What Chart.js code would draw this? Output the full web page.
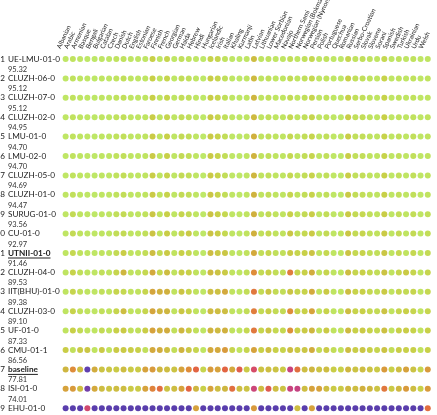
<!DOCTYPE html>
<html>
<head>
<meta charset="utf-8">
<script src="https://cdn.jsdelivr.net/npm/chart.js@4.4.0/dist/chart.umd.min.js"></script>
<style>
  html, body { margin: 0; padding: 0; background: #fff; }
  #wrap { width: 437px; height: 415px; }
</style>
</head>
<body>
<div id="wrap"><canvas id="dots"></canvas></div>
<script>
// languages (columns)
var languages = ['Albanian', 'Arabic', 'Armenian', 'Basque', 'Bengali', 'Bulgarian', 'Catalan', 'Czech', 'Danish', 'Dutch',
    'English', 'Estonian', 'Faroese', 'Finnish', 'French', 'Georgian', 'German', 'Haida', 'Hebrew', 'Hindi',
    'Hungarian', 'Icelandic', 'Irish', 'Italian', 'Khaling', 'Kurmanji', 'Latin', 'Latvian', 'Lithuanian', 'Lower Sorbian',
    'Macedonian', 'Navajo', 'Northern Sami', 'Norwegian (Bokmal)', 'Norwegian (Nynorsk)', 'Persian', 'Polish', 'Portuguese', 'Quechua', 'Romanian',
    'Russian', 'Serbo-Croatian', 'Slovak', 'Slovene', 'Sorani', 'Spanish', 'Swedish', 'Turkish', 'Ukrainian', 'Urdu', 'Welsh'];

// systems (rows), ranked
var systems = ['UE-LMU-01-0', 'CLUZH-06-0', 'CLUZH-07-0', 'CLUZH-02-0', 'LMU-01-0', 'LMU-02-0', 'CLUZH-05-0', 'CLUZH-01-0',
    'SURUG-01-0', 'CU-01-0', 'UTNII-01-0', 'CLUZH-04-0', 'IIT(BHU)-01-0', 'CLUZH-03-0', 'UF-01-0', 'CMU-01-1',
    'baseline', 'ISI-01-0', 'EHU-01-0'];
var averages = ['95.32', '95.12', '95.12', '94.95', '94.70', '94.70', '94.69', '94.47', '93.56', '92.97', '91.46',
    '89.53', '89.38', '89.10', '87.33', '86.56', '77.81', '74.01', '7.57'];
var highlighted = ['UTNII-01-0', 'baseline'];

// accuracy per system, one value per language
var ueLmu01 = [98,94,97,99,99,97,98,94,93,97,97,97,86,96,88,98,92,93,98,100,87,88,93,98,99,97,80,95,93,96,96,91,96,92,89,97,93,98,99,88,93,92,94,96,89,98,93,97,93,98,95];
var cluzh06 = [98,93,96,98,99,96,98,94,92,96,97,96,86,95,88,98,91,92,97,100,85,88,92,98,99,97,79,95,92,96,96,90,95,92,89,97,93,98,99,86,92,92,94,96,87,98,93,97,93,98,94];
var cluzh07 = [98,93,96,98,99,96,98,94,92,96,97,96,86,95,88,97,91,92,97,100,85,88,92,98,99,97,78,95,92,96,96,90,95,92,88,97,93,98,99,86,92,92,94,96,87,98,93,97,93,98,95];
var cluzh02 = [98,93,96,98,99,96,98,93,92,96,96,96,85,95,88,97,91,92,97,100,84,88,92,98,99,97,79,95,92,96,95,89,95,92,88,97,93,98,99,85,92,91,94,96,86,98,93,97,93,98,94];
var lmu01 = [98,93,96,98,99,96,97,93,92,96,96,95,84,95,86,97,90,91,97,100,84,87,91,98,99,96,76,94,92,95,95,89,95,91,88,97,92,98,99,85,92,91,94,95,87,97,92,97,92,98,94];
var lmu02 = [98,93,96,98,99,96,97,93,92,96,96,95,84,95,86,97,90,91,97,100,84,87,91,98,99,96,77,94,92,95,95,89,95,91,88,97,92,98,99,85,92,91,94,95,87,97,92,97,92,98,94];
var cluzh05 = [98,93,96,98,99,96,98,93,91,96,96,95,85,95,87,97,90,91,97,100,84,87,91,98,99,97,78,94,92,95,95,89,94,91,87,97,92,98,99,85,92,91,94,95,86,98,92,97,92,98,94];
var cluzh01 = [97,92,96,98,99,96,97,93,91,96,96,95,84,94,87,97,90,91,97,100,83,87,91,97,99,96,77,94,91,95,95,88,94,91,87,96,92,98,99,84,91,91,93,95,86,97,92,97,92,98,94];
var surug01 = [97,90,95,97,99,95,97,92,90,95,95,93,83,93,86,96,88,90,96,99,82,86,89,97,98,95,76,93,90,94,94,86,93,90,85,96,91,97,98,84,90,89,92,94,85,97,91,96,91,97,92];
var cu01 = [97,90,94,97,98,95,96,91,90,95,95,92,82,93,85,95,88,84,96,99,82,85,89,96,98,94,76,92,89,93,93,83,92,89,84,95,90,97,94,83,90,88,92,93,84,96,90,95,90,97,91];
var utnii01 = [96,89,93,96,98,94,95,90,85,94,94,91,80,90,84,94,86,88,95,99,80,84,83,95,97,93,74,91,88,92,92,84,88,86,82,94,89,96,96,82,89,87,91,92,83,95,89,94,89,96,90];
var cluzh04 = [95,87,92,95,97,92,94,88,78,93,93,89,74,89,80,93,85,86,93,98,79,82,84,94,96,92,66,90,86,91,91,63,88,86,75,93,88,95,96,80,88,86,89,91,82,94,88,84,88,95,88];
var iitBhu01 = [95,88,92,95,97,92,94,88,89,93,93,88,73,76,76,93,82,87,93,98,80,81,74,94,96,91,62,90,82,90,91,82,88,87,74,93,84,95,96,80,87,86,89,91,84,94,88,90,88,95,89];
var cluzh03 = [95,87,92,94,97,92,94,88,80,93,93,88,73,78,78,93,83,86,93,98,79,80,80,94,96,91,63,90,85,90,90,66,87,86,72,93,87,95,95,80,87,86,89,90,82,94,88,86,88,95,88];
var uf01 = [94,86,90,94,96,90,93,86,84,92,92,85,72,76,75,92,78,84,92,97,77,79,76,93,95,89,62,88,82,89,89,67,86,84,78,92,84,94,94,79,86,84,87,89,81,93,86,85,87,94,86];
var cmu01 = [85,92,84,83,94,84,93,84,84,85,86,92,74,75,80,91,77,83,88,96,74,74,70,88,94,88,72,86,80,86,87,80,84,83,75,90,84,91,93,80,85,83,86,88,82,91,85,86,86,93,86];
var baseline = [78,66,80,25,75,82,83,84,80,84,84,72,70,78,80,82,72,66,58,88,70,72,58,74,56,84,50,82,80,82,84,45,60,80,78,82,80,85,86,78,82,80,82,84,70,86,80,72,82,88,70];
var isi01 = [72,70,80,28,74,80,82,80,80,84,84,72,64,60,82,80,72,58,78,86,72,80,78,60,80,82,46,80,55,80,82,45,44,80,72,72,80,84,84,78,80,76,78,82,62,84,78,70,80,86,70];
var ehu01 = [5,4,6,48,5,4,6,3,5,4,5,3,4,3,5,6,4,3,72,5,4,3,4,5,6,4,70,5,3,4,5,3,80,4,72,5,4,6,5,4,5,3,4,5,3,5,4,5,3,4,60];

var scores = [ueLmu01, cluzh06, cluzh07, cluzh02, lmu01, lmu02, cluzh05, cluzh01, surug01, cu01,
    utnii01, cluzh04, iitBhu01, cluzh03, uf01, cmu01, baseline, isi01, ehu01];

// colour ramp: purple (low) -> magenta -> red -> orange -> olive -> light green (high)
var ramp = [
    [0, [88, 62, 172]],
    [25, [96, 64, 176]],
    [40, [186, 60, 146]],
    [50, [214, 76, 104]],
    [58, [226, 100, 66]],
    [66, [222, 140, 58]],
    [76, [208, 176, 62]],
    [86, [200, 208, 72]],
    [93, [192, 226, 94]],
    [100, [190, 232, 104]]
];

function colourFor(v) {
    for (let i = 1; i < ramp.length; i++) {
        if (v <= ramp[i][0]) {
            let a = ramp[i - 1], b = ramp[i];
            let t = (v - a[0]) / (b[0] - a[0]);
            let c = a[1].map((x, k) => Math.round(x + (b[1][k] - x) * t));
            return 'rgb(' + c.join(',') + ')';
        }
    }
    return 'rgb(190,232,104)';
}

var points = [];
systems.forEach((s, r) => {
    languages.forEach((l, c) => {
        points.push({ x: l, y: s, v: scores[r][c] });
    });
});

// row labels: rank, system name, average underneath
var rowLabels = {
    id: 'rowLabels',
    afterDraw(chart) {
        const ctx = chart.ctx;
        const yScale = chart.scales.y;
        ctx.save();
        systems.forEach((s, i) => {
            const y = yScale.getPixelForValue(i);
            const strong = highlighted.includes(s);
            ctx.fillStyle = '#222';
            ctx.textBaseline = 'middle';
            ctx.font = '8.2px Lato';
            ctx.textAlign = 'right';
            ctx.fillText(String(i + 1), 5, y);
            ctx.textAlign = 'left';
            ctx.font = (strong ? 'bold ' : '') + '8.2px Lato';
            ctx.fillText(s, 8, y);
            if (strong) {
                const w = ctx.measureText(s).width;
                ctx.fillRect(8, y + 4.5, w, 1);
            }
            ctx.fillStyle = '#333';
            ctx.font = '7.5px Lato';
            ctx.fillText(averages[i], 8, y + 10.5);
        });
        ctx.restore();
    }
};

new Chart(document.getElementById('dots'), {
    type: 'scatter',
    data: {
        datasets: [{
            data: points,
            clip: false,
            pointRadius: 3,
            pointHoverRadius: 3,
            pointBorderWidth: 0,
            pointBackgroundColor: (ctx) => colourFor(ctx.raw ? ctx.raw.v : 100)
        }]
    },
    options: {
        responsive: true,
        maintainAspectRatio: false,
        animation: false,
        layout: {
            padding: { left: 62, right: 5.6, top: 0, bottom: 6.8 }
        },
        plugins: {
            legend: { display: false },
            tooltip: { enabled: false }
        },
        scales: {
            x: {
                type: 'category',
                labels: languages,
                position: 'top',
                offset: true,
                grid: { display: false },
                border: { display: false },
                ticks: {
                    autoSkip: false,
                    minRotation: 65,
                    maxRotation: 65,
                    padding: 1,
                    color: '#222',
                    font: { family: 'Lato', size: 6.5 }
                },
                afterFit: (scale) => {
                    scale.height = 59;
                    scale.paddingLeft = 0;
                    scale.paddingRight = 0;
                }
            },
            y: {
                type: 'category',
                labels: systems,
                offset: false,
                display: false
            }
        }
    },
    plugins: [rowLabels]
});
</script>
</body>
</html>
